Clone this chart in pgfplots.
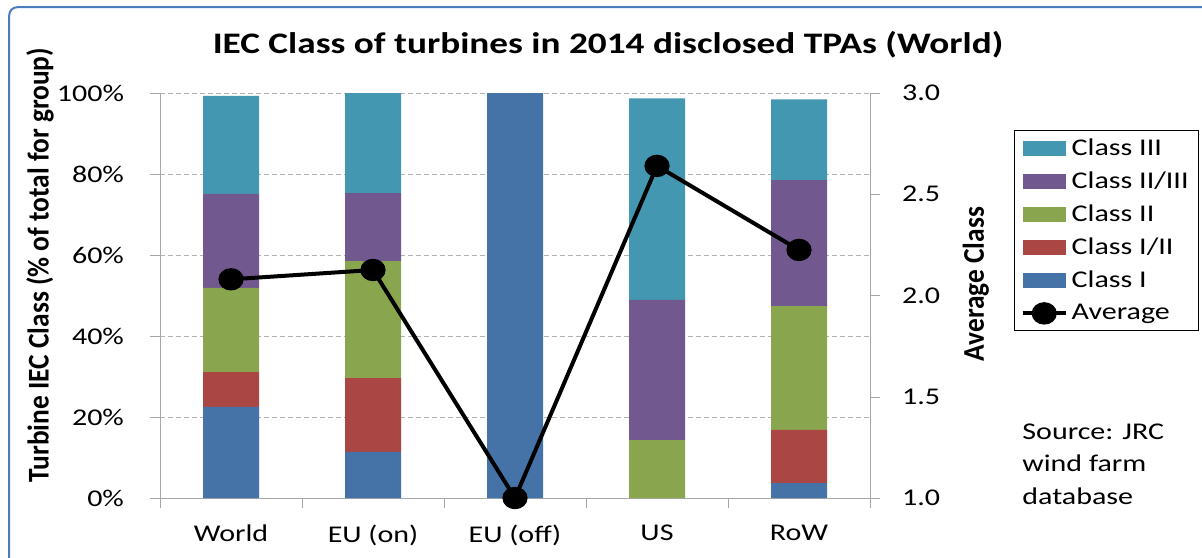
\documentclass[border=0pt]{standalone}
\usepackage{fontspec}
\setmainfont[FakeStretch=1.25]{Carlito}
\newfontfamily\rotfont{Carlito}
\usepackage{graphicx}
\usepackage{pgfplots}
\pgfplotsset{compat=1.18}

\definecolor{cI}{RGB}{69,114,167}
\definecolor{cIandII}{RGB}{170,70,67}
\definecolor{cII}{RGB}{137,165,78}
\definecolor{cIIandIII}{RGB}{113,88,143}
\definecolor{cIII}{RGB}{67,151,176}
\definecolor{frameblue}{RGB}{74,126,187}

\pgfplotsset{
  patch/.style={fill=#1, draw=none,
    legend image code/.code={\fill[##1] (0pt,-3.75pt) rectangle (21.5pt,3.75pt);}},
  avglegend/.style={
    legend image code/.code={\draw[mark repeat=2,mark phase=2,##1] plot coordinates {(0pt,0pt) (10.75pt,0pt) (21.5pt,0pt)};}},
}

\begin{document}
\begin{tikzpicture}
\node[anchor=base, font=\fontsize{14.9}{18}\selectfont\bfseries] at (304pt,-26.5pt)
  {IEC Class of turbines in 2014 disclosed TPAs (World)};

% percent shares, bottom to top
\begin{axis}[
  at={(80pt,-249pt)}, anchor=south west,
  scale only axis, width=355pt, height=202.5pt,
  xmin=-0.5, xmax=4.5, ymin=0, ymax=100,
  ybar stacked, bar width=28pt,
  axis x line*=bottom, axis y line*=left,
  axis line style={draw=gray!70},
  xtick={-0.5,0.5,...,4.5}, xticklabels={},
  extra x ticks={0,1,2,3,4},
  extra x tick labels={World, EU (on), EU (off), US, RoW},
  extra x tick style={major tick length=0pt, xticklabel style={yshift=-10pt}},
  ytick={0,20,...,100},
  yticklabel={\pgfmathprintnumber{\tick}\%},
  yticklabel style={xshift=-9.5pt},
  ymajorgrids,
  major grid style={draw=gray!60, dash pattern=on 2.5pt off 1.5pt},
  tick align=outside, major tick length=5pt,
  tick style={draw=gray!70},
  tick label style={font=\fontsize{12}{14}\selectfont},
  /pgf/number format/assume math mode=true,
  ylabel={\rotfont\bfseries\scalebox{1}[1.1]{\fontsize{13.7}{16}\selectfont Turbine IEC Class (\% of total for group)}},
  ylabel style={at={(rel axis cs:-0.169,0.575)}, anchor=center},
]
\addplot[patch=cI] coordinates {(0,22.5) (1,11.4) (2,100) (3,0) (4,3.7)};
\addplot[patch=cIandII] coordinates {(0,8.6) (1,18.2) (2,0) (3,0) (4,13.1)};
\addplot[patch=cII] coordinates {(0,20.8) (1,28.9) (2,0) (3,14.3) (4,30.6)};
\addplot[patch=cIIandIII] coordinates {(0,23.2) (1,16.8) (2,0) (3,34.6) (4,31.1)};
\addplot[patch=cIII] coordinates {(0,24.2) (1,24.7) (2,0) (3,49.8) (4,19.9)};
\end{axis}

% average class, right axis
\begin{axis}[
  at={(80pt,-249pt)}, anchor=south west,
  scale only axis, width=355pt, height=202.5pt,
  xmin=-0.5, xmax=4.5, ymin=1, ymax=3,
  axis x line=none, axis y line*=right,
  axis line style={draw=gray!70},
  ytick={1,1.5,...,3},
  yticklabel style={xshift=7.5pt},
  tick align=outside, major tick length=5pt,
  tick style={draw=gray!70},
  tick label style={font=\fontsize{12}{14}\selectfont},
  /pgf/number format/assume math mode=true,
  /pgf/number format/fixed, /pgf/number format/fixed zerofill,
  /pgf/number format/precision=1,
  ylabel={\rotfont\bfseries\scalebox{1}[1.1]{\fontsize{13.7}{16}\selectfont Average Class}},
  ylabel style={at={(rel axis cs:1.149,0.528)}, anchor=center},
  clip=false,
  legend cell align=left,
  legend style={at={(1.203,0.908)}, anchor=north west, draw=black, line width=0.6pt,
    font=\fontsize{12}{14}\selectfont, row sep=2.7pt, inner xsep=3pt},
]
\addlegendimage{patch=cIII}\addlegendentry{Class III}
\addlegendimage{patch=cIIandIII}\addlegendentry{Class II/III}
\addlegendimage{patch=cII}\addlegendentry{Class II}
\addlegendimage{patch=cIandII}\addlegendentry{Class I/II}
\addlegendimage{patch=cI}\addlegendentry{Class I}
\addplot[black, line width=2pt, mark=*, mark size=4.6pt, mark options={xscale=1.15}, avglegend]
  coordinates {(0,2.08) (1,2.126) (2,1.0) (3,2.64) (4,2.225)};
\addlegendentry{Average}
\end{axis}

\node[anchor=base west, font=\fontsize{12}{14}\selectfont, inner sep=0pt] at (511pt,-219.5pt) {Source: JRC};
\node[anchor=base west, font=\fontsize{12}{14}\selectfont, inner sep=0pt] at (511pt,-235.5pt) {wind farm};
\node[anchor=base west, font=\fontsize{12}{14}\selectfont, inner sep=0pt] at (511pt,-252pt) {database};

\draw[frameblue, line width=1pt, rounded corners=4pt] (4.6pt,-320pt) -- (4.6pt,-3.6pt) -- (700pt,-3.6pt);
\pgfresetboundingbox
\useasboundingbox (0pt,0pt) rectangle (601pt,-278.5pt);
\end{tikzpicture}
\end{document}
